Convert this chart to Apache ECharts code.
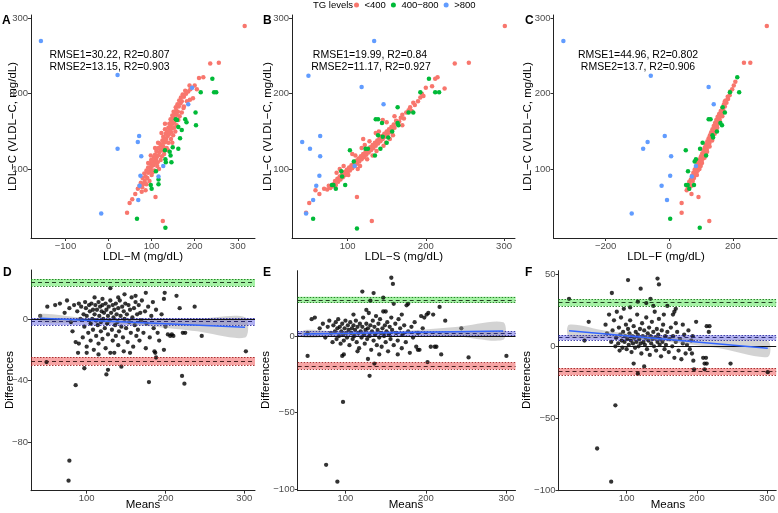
<!DOCTYPE html>
<html><head><meta charset="utf-8">
<script src="https://cdn.jsdelivr.net/npm/echarts@6/dist/echarts.min.js"></script>
<style>html,body{margin:0;padding:0;background:#fff}#c{width:778px;height:513px}</style>
</head><body><div id="c"></div>
<script>
// ---------------- DATA ----------------
const groupNames = ['<400', '400\u2212800', '>800'];
// Panel A : LDL-M vs LDL-C
const A_red = [[72,78],[78,76],[75,82],[80,80],[84,84],[79,88],[86,90],[90,88],[83,94],[92,95],[88,98],[95,97],[98,100],[92,102],[100,104],[97,107],[104,105],[102,110],[107,108],[99,112],[110,112],[105,115],[112,116],[108,119],[115,118],[118,122],[111,124],[120,126],[116,128],[124,125],[122,131],[127,130],[119,134],[128,135],[125,138],[132,136],[130,141],[134,140],[127,143],[137,144],[133,147],[140,146],[136,150],[142,151],[131,153],[145,149],[139,155],[144,157],[147,154],[141,160],[149,160],[146,163],[152,162],[144,166],[150,168],[155,167],[148,171],[153,173],[158,172],[151,176],[157,178],[161,176],[156,182],[163,183],[160,186],[167,187],[164,191],[170,190],[168,195],[175,196],[172,199],[180,200],[178,204],[185,203],[190,206],[188,211],[200,211],[205,206],[210,221],[220,222],[236,240],[256,241],[316,290],[62,67],[55,60],[49,55],[43,42],[109,63],[126,31],[189,192],[196,194],[100,92],[106,98],[113,104],[121,112],[114,109],[129,120],[124,117],[135,128],[129,126],[139,135],[145,140],[150,145],[155,150],[158,158],[162,165],[170,175],[175,183],[182,190],[95,84],[88,80],[103,96],[117,100],[138,125],[148,135],[152,155],[165,170],[174,181],[86,72],[77,70],[68,74],[92,108],[98,118],[108,128],[115,135],[123,148],[131,160]];
const A_green = [[66,34],[132,22],[241,220],[214,202],[245,202],[250,202],[202,175],[203,158],[159,165],[181,162],[162,156],[166,141],[162,127],[131,125],[144,118],[146,109],[133,109],[132,113],[110,97],[116,86],[98,79],[100,74],[116,80],[142,123],[149,129],[170,152],[178,166],[156,166]];
const A_blue = [[-157,270],[21,225],[21,127],[71,144],[68,136],[76,117],[74,91],[-17,41],[69,59],[72,78],[194,208],[185,186],[127,104],[116,90]];
// Panel B : LDL-S vs LDL-C
const B_red = [[70,74],[74,73],[78,75],[76,78],[80,77],[82,80],[85,79],[84,84],[88,83],[87,87],[91,86],[90,90],[94,89],[93,93],[97,92],[96,96],[100,95],[99,99],[103,98],[102,102],[106,101],[105,105],[109,104],[108,108],[112,107],[111,111],[115,110],[114,114],[118,113],[117,117],[121,116],[120,120],[124,119],[123,123],[127,122],[126,126],[130,125],[129,129],[133,128],[132,132],[136,131],[135,135],[139,134],[138,138],[142,137],[141,141],[145,140],[144,144],[148,143],[147,147],[151,146],[150,150],[154,149],[153,153],[157,152],[156,156],[160,155],[159,159],[163,160],[162,164],[166,163],[168,168],[172,167],[170,172],[175,175],[178,178],[182,177],[180,182],[186,185],[184,188],[190,190],[193,195],[197,197],[195,200],[200,208],[208,210],[212,220],[215,222],[224,207],[237,240],[255,241],[301,290],[131,31],[112,63],[51,55],[47,42],[64,67],[59,72],[86,95],[95,104],[110,118],[118,128],[128,137],[140,150],[150,162],[160,170],[101,92],[113,100],[125,113],[137,124],[149,135],[158,145],[170,158],[120,140],[145,165],[106,120],[90,100],[116,104],[132,118],[146,131],[154,140],[122,132],[136,148]];
const B_green = [[112,21],[56,34],[204,220],[193,202],[212,202],[217,202],[164,182],[178,175],[184,175],[136,166],[139,166],[144,161],[164,161],[165,158],[139,145],[145,143],[152,142],[142,127],[123,127],[126,127],[135,118],[103,125],[108,110],[97,79],[80,79],[82,79],[85,74],[93,90],[92,97],[157,150],[150,135]];
const B_blue = [[134,270],[50,224],[118,209],[146,186],[42,136],[52,127],[65,144],[65,117],[64,91],[60,78],[56,59],[47,41],[109,104]];
// Panel C : LDL-F vs LDL-C
const C_red = [[55,72],[62,74],[58,77],[66,79],[70,78],[63,83],[74,84],[68,86],[78,88],[72,91],[82,92],[76,95],[86,96],[80,99],[90,98],[84,102],[94,103],[88,106],[98,107],[92,110],[102,111],[96,113],[106,114],[100,117],[110,118],[104,121],[114,122],[108,125],[118,126],[112,129],[122,130],[116,133],[126,134],[120,137],[130,138],[124,141],[134,142],[128,145],[138,146],[132,149],[142,150],[136,153],[146,154],[140,157],[150,158],[144,161],[154,162],[148,165],[158,166],[152,169],[162,170],[157,173],[166,174],[162,177],[170,178],[167,181],[175,183],[172,186],[180,188],[178,191],[185,193],[184,196],[190,198],[192,203],[198,206],[203,211],[208,216],[235,241],[255,241],[307,290],[39,55],[39,42],[92,63],[126,31],[70,67],[95,100],[103,108],[111,115],[119,123],[127,130],[135,138],[143,147],[151,155],[159,163],[167,170],[87,92],[99,104],[115,126],[131,142],[147,160],[163,176],[175,190],[105,118],[123,135],[139,152],[155,170]];
const C_green = [[3,34],[96,22],[214,222],[220,202],[191,202],[175,175],[168,182],[124,166],[130,166],[136,145],[138,142],[161,161],[166,158],[52,125],[97,127],[116,118],[80,110],[84,113],[59,97],[53,79],[58,79],[78,79],[63,74],[150,150],[105,135]];
const C_blue = [[-333,270],[-58,224],[-14,144],[-68,136],[-82,127],[6,117],[3,91],[-24,78],[-7,59],[-118,41],[124,209],[140,186],[71,90],[84,104]];

// Bland-Altman panels: [mean, difference]
const D_pts = [[60,9],[66,10],[72,4],[75,12],[78,7],[80,-2],[82,-8],[84,9],[86,-15],[88,5],[90,10],[90,-16],[92,0],[93,8],[95,-12],[96,3],[97,-5],[98,11],[99,7],[100,-18],[100,2],[102,-9],[103,9],[104,5],[105,-3],[105,-14],[106,10],[107,0],[108,6],[108,-7],[109,-20],[110,3],[111,9],[112,-11],[112,-1],[113,6],[114,-4],[115,11],[115,-16],[116,2],[117,8],[118,-8],[118,-2],[119,5],[120,9],[120,-13],[121,0],[122,4],[123,-6],[124,10],[124,-19],[125,6],[126,-3],[127,2],[127,-10],[128,8],[129,-1],[130,12],[130,-22],[131,4],[132,-7],[133,9],[133,-14],[134,1],[135,6],[136,-4],[137,10],[137,-11],[138,3],[139,-2],[140,7],[140,-17],[141,-8],[142,12],[143,2],[144,-5],[145,8],[146,-12],[147,5],[147,-21],[148,0],[149,10],[150,-6],[151,3],[152,-15],[153,9],[154,-2],[155,6],[156,-9],[157,14],[158,1],[159,-18],[160,7],[161,-4],[162,11],[163,-11],[164,3],[165,-7],[166,9],[167,-14],[168,4],[169,-1],[170,12],[172,-9],[174,5],[175,-19],[176,-3],[178,8],[180,-12],[182,2],[184,11],[185,-6],[187,-22],[188,6],[190,-9],[192,-14],[195,3],[198,13],[200,-5],[203,-10],[206,-11],[208,-10],[210,-11],[214,15],[218,7],[222,-9],[225,-9],[237,8],[246,-11],[302,-21],[49,-28],[41,2],[50,8],[77,-105],[78,-92],[86,-43],[97,-32],[125,-36],[127,-33],[144,-31],[179,-41],[221,-37],[224,-42],[188,-25],[198,-20],[186,-21],[130,20],[148,16],[162,15],[175,17],[199,17],[110,14],[120,13],[140,14],[100,-22],[89,-22],[115,-23],[135,-22],[155,-22]];
const E_pts = [[58,11],[62,12],[68,5],[72,8],[75,-1],[78,6],[80,10],[82,2],[84,-4],[85,7],[87,3],[88,9],[89,-2],[90,5],[91,11],[92,0],[93,6],[94,-5],[95,3],[96,8],[97,1],[98,-3],[99,5],[100,10],[101,2],[102,-1],[103,7],[104,4],[105,-6],[106,9],[107,2],[108,5],[109,-2],[110,7],[111,0],[112,4],[113,10],[114,-4],[115,6],[116,2],[117,-8],[118,8],[119,3],[120,-1],[121,6],[122,12],[123,1],[124,-5],[125,4],[126,8],[127,-2],[128,5],[129,15],[130,0],[131,7],[132,-9],[133,3],[134,10],[135,-3],[136,6],[137,1],[138,13],[139,-6],[140,4],[141,8],[142,-1],[143,11],[144,2],[145,-7],[146,5],[147,16],[148,0],[149,7],[150,-4],[151,3],[152,9],[153,-10],[154,1],[155,6],[156,-2],[157,12],[158,4],[160,-6],[162,8],[163,2],[165,-3],[166,11],[168,5],[170,-8],[171,1],[173,7],[175,-4],[176,20],[178,3],[180,-11],[182,6],[184,-1],[186,9],[188,-7],[190,2],[192,-9],[194,13],[196,5],[198,12],[201,14],[203,15],[209,14],[206,-7],[211,-7],[213,-7],[219,-12],[202,-17],[217,19],[224,10],[244,5],[253,-14],[300,-13],[53,-13],[53,2],[90,-95],[76,-84],[97,-43],[98,-12],[96,-13],[121,29],[135,28],[131,23],[147,25],[157,38],[159,34],[160,21],[178,21],[126,17],[130,-26],[136,-18],[128,-15],[190,-9],[115,-10],[142,-12],[165,-12],[150,16],[110,14],[170,14]];
const F_pts = [[46,17],[40,4],[18,33],[70,15],[72,9],[75,22],[78,3],[80,11],[82,18],[84,0],[85,6],[86,24],[88,2],[89,13],[90,-3],[91,8],[92,20],[93,4],[94,-1],[95,10],[96,26],[97,3],[98,7],[99,15],[100,-2],[101,5],[102,12],[103,1],[104,9],[105,18],[106,4],[107,-4],[108,7],[109,2],[110,14],[111,6],[112,-1],[113,10],[114,3],[115,22],[116,8],[117,0],[118,5],[119,12],[120,2],[121,-5],[122,16],[123,7],[124,3],[125,11],[126,1],[127,6],[128,20],[129,-2],[130,9],[131,4],[132,13],[133,-6],[134,7],[135,2],[136,17],[137,5],[138,10],[139,0],[140,24],[141,6],[142,-3],[143,12],[144,3],[145,8],[146,19],[147,1],[148,5],[149,-7],[150,11],[151,3],[152,15],[153,22],[154,-2],[155,7],[156,1],[158,10],[160,-4],[161,5],[163,13],[165,0],[166,7],[168,-8],[170,3],[172,10],[174,-3],[176,5],[178,-9],[180,2],[182,8],[184,-5],[186,1],[188,11],[190,-2],[192,4],[194,7],[195,-10],[193,-5],[196,-16],[199,17],[209,-8],[211,-16],[211,-12],[213,-8],[214,-12],[214,14],[217,10],[218,14],[248,-12],[301,-18],[78,-94],[58,-71],[84,-41],[79,37],[102,46],[120,40],[144,47],[146,43],[134,33],[116,31],[110,-12],[116,-19],[125,-14],[170,26],[168,24],[166,22],[170,16],[158,28],[138,28],[105,27],[128,30],[180,15]];

// Limits of agreement: [lowerCI, centre, upperCI]
const D_upper = [21.4, 23.8, 26.0], D_mean = [-3.9, -1.75, 0.45], D_lower = [-29.9, -27.3, -24.9];
const E_upper = [21.7, 23.5, 25.6], E_mean = [0.2, 1.6, 3.0], E_lower = [-21.5, -19.4, -17.2];
const F_upper = [28.0, 30.3, 32.6], F_mean = [4.4, 6.2, 7.6], F_lower = [-19.9, -17.6, -15.3];

// Regression trend (x, fit) and its confidence band (x, low, high)
const D_fit = [[41, 0.5], [301, -5.4]];
const D_ci = [[41,-2.0,3.2],[90,-2.1,0.9],[135,-2.7,-0.5],[180,-4.7,-0.6],[240,-8.0,0.0],[301,-12.0,1.2]];
const E_fit = [[48, 1.3], [296, 3.3]];
const E_ci = [[48,-1.0,3.8],[90,0.4,2.9],[135,1.1,2.9],[180,1.2,3.6],[240,-0.3,6.0],[296,-2.5,9.0]];
const F_fit = [[18, 10.8], [301, -1.4]];
const F_ci = [[18,6.6,15.0],[70,6.3,10.8],[125,4.7,7.7],[170,2.5,6.0],[230,-1.2,4.5],[301,-7.4,3.8]];

// Tick labels
const ticksAx = [-100, 0, 100, 200, 300], ticksBx = [100, 200, 300], ticksCx = [-200, 0, 200];
const ticksTopY = [100, 200, 300];
const ticksDEFx = [100, 200, 300];
const ticksDy = [-80, -40, 0], ticksEy = [-100, -50, 0], ticksFy = [-100, -50, 0, 50];

const annotA = ['RMSE1=30.22, R2=0.807', 'RMSE2=13.15, R2=0.903'];
const annotB = ['RMSE1=19.99, R2=0.84', 'RMSE2=11.17, R2=0.927'];
const annotC = ['RMSE1=44.96, R2=0.802', 'RMSE2=13.7, R2=0.906'];

// ---------------- CHART ----------------
const FONT = '"Liberation Sans", Arial, Helvetica, sans-serif';
const COLORS = ['#F8766D', '#00BA38', '#619CFF'];
const fmt = v => (v < 0 ? '\u2212' + Math.abs(v) : String(v));

const grids = [
  {left: 31, top: 15, width: 224, height: 223},
  {left: 292, top: 15, width: 223, height: 223},
  {left: 553.5, top: 15, width: 223.5, height: 223},
  {left: 31, top: 270, width: 224, height: 220.7},
  {left: 297.7, top: 270.7, width: 217.8, height: 220},
  {left: 558.5, top: 270.7, width: 218.5, height: 220}
];
const xr = [[-180, 340], [29, 314], [-364, 339], [29.3, 313.6], [40.7, 311.3], [3, 313]];
const yr = [[8.5, 304.5], [8.5, 304.5], [8.5, 304.5], [-111.5, 31.8], [-100.9, 42.6], [-100.3, 52.5]];
const xt = [ticksAx, ticksBx, ticksCx, ticksDEFx, ticksDEFx, ticksDEFx];
const yt = [ticksTopY, ticksTopY, ticksTopY, ticksDy, ticksEy, ticksFy];

function axis(i, range, ticks) {
  return {
    type: 'value', gridIndex: i, min: range[0], max: range[1],
    splitLine: {show: false},
    axisLine: {show: true, onZero: false, lineStyle: {color: '#222', width: 1}},
    axisTick: {show: true, length: 3, customValues: ticks, lineStyle: {color: '#333', width: 1}},
    axisLabel: {customValues: ticks, formatter: fmt, color: '#4D4D4D', fontSize: 9.5, fontFamily: FONT, margin: 3}
  };
}

const series = [];
const topSets = [[A_red, A_green, A_blue], [B_red, B_green, B_blue], [C_red, C_green, C_blue]];
topSets.forEach((sets, i) => {
  sets.forEach((d, g) => {
    series.push({
      type: 'scatter', name: groupNames[g], xAxisIndex: i, yAxisIndex: i, data: d,
      symbolSize: 4.5, itemStyle: {color: COLORS[g], opacity: 1}, silent: true
    });
  });
});

const baSets = [
  {pts: D_pts, up: D_upper, mn: D_mean, lo: D_lower, fit: D_fit, ci: D_ci},
  {pts: E_pts, up: E_upper, mn: E_mean, lo: E_lower, fit: E_fit, ci: E_ci},
  {pts: F_pts, up: F_upper, mn: F_mean, lo: F_lower, fit: F_fit, ci: F_ci}
];
baSets.forEach((s, k) => {
  const i = k + 3;
  series.push({type: 'scatter', xAxisIndex: i, yAxisIndex: i, data: s.pts, symbolSize: 4.3,
    itemStyle: {color: '#000'}, silent: true, z: 2});
  series.push({
    type: 'custom', xAxisIndex: i, yAxisIndex: i, data: [0], z: 3, silent: true,
    renderItem: (params, api) => {
      const upper = s.ci.map(p => api.coord([p[0], p[2]]));
      const lower = s.ci.slice().reverse().map(p => api.coord([p[0], p[1]]));
      return {type: 'polygon', shape: {points: upper.concat(lower), smooth: 0.3},
        style: {fill: 'rgba(150,150,150,0.42)', stroke: null}};
    }
  });
  const band = (b, fill) => [{yAxis: b[0], itemStyle: {color: fill}}, {yAxis: b[2]}];
  const edge = (v, c) => ({yAxis: v, lineStyle: {type: [1.5, 1.5], color: c, width: 0.9}});
  const mid = (v, c) => ({yAxis: v, lineStyle: {type: [4, 3], color: c, width: 1}});
  series.push({
    type: 'line', xAxisIndex: i, yAxisIndex: i, data: [], z: 4, silent: true,
    markArea: {silent: true, data: [
      band(s.up, 'rgba(40,225,40,0.42)'),
      band(s.mn, 'rgba(70,70,225,0.42)'),
      band(s.lo, 'rgba(235,40,40,0.42)')
    ]},
    markLine: {silent: true, symbol: 'none', label: {show: false}, animation: false, data: [
      {yAxis: 0, lineStyle: {type: 'solid', color: '#111', width: 1}},
      edge(s.up[0], '#1a7a1a'), edge(s.up[2], '#1a7a1a'), mid(s.up[1], '#1f3f1f'),
      edge(s.mn[0], '#3030a0'), edge(s.mn[2], '#3030a0'), mid(s.mn[1], '#2a2a70'),
      edge(s.lo[0], '#a02020'), edge(s.lo[2], '#a02020'), mid(s.lo[1], '#4a1f1f')
    ]}
  });
  series.push({type: 'line', xAxisIndex: i, yAxisIndex: i, data: s.fit, showSymbol: false,
    lineStyle: {color: '#3366FF', width: 1.6}, z: 5, silent: true});
});

const T = (text, x, y, opts = {}) => ({
  type: 'text', x, y, rotation: opts.rot || 0, silent: true,
  style: {text, fill: opts.fill || '#000', fontSize: opts.size || 11.5, fontFamily: FONT,
    fontWeight: opts.bold ? 'bold' : 'normal', align: opts.align || 'center', verticalAlign: 'middle'}
});
const R = Math.PI / 2;
const graphics = [
  T('TG levels', 313, 5, {align: 'left', size: 9.5}),
  T('A', 2, 20.5, {align: 'left', bold: true, size: 12}),
  T('B', 263, 20.5, {align: 'left', bold: true, size: 12}),
  T('C', 525, 20.5, {align: 'left', bold: true, size: 12}),
  T('D', 3, 273, {align: 'left', bold: true, size: 12}),
  T('E', 263, 273, {align: 'left', bold: true, size: 12}),
  T('F', 525, 273, {align: 'left', bold: true, size: 12}),
  T('LDL\u2212C (VLDL\u2212C, mg/dL)', 13, 126.5, {rot: R}),
  T('LDL\u2212C (VLDL\u2212C, mg/dL)', 268, 126.5, {rot: R}),
  T('LDL\u2212C (VLDL\u2212C, mg/dL)', 528, 126.5, {rot: R}),
  T('LDL\u2212M (mg/dL)', 143, 257),
  T('LDL\u2212S (mg/dL)', 404, 257),
  T('LDL\u2212F (mg/dL)', 666, 257),
  T('Differences', 10, 380, {rot: R}),
  T('Differences', 266, 380, {rot: R}),
  T('Differences', 527, 380, {rot: R}),
  T('Means', 143, 505),
  T('Means', 406, 505),
  T('Means', 668, 505),
  T(annotA[0], 109.5, 55, {size: 10.5}), T(annotA[1], 109.5, 67, {size: 10.5}),
  T(annotB[0], 370, 55, {size: 10.5}), T(annotB[1], 371, 67, {size: 10.5}),
  T(annotC[0], 638, 55, {size: 10.5}), T(annotC[1], 638, 67, {size: 10.5})
];

const chart = echarts.init(document.getElementById('c'), null, {renderer: 'canvas'});
chart.setOption({
  animation: false,
  backgroundColor: '#fff',
  textStyle: {fontFamily: FONT},
  legend: {
    data: groupNames, left: 354, top: 0, padding: 0, itemGap: 5, itemWidth: 8, itemHeight: 5,
    icon: 'circle', selectedMode: false,
    textStyle: {fontSize: 9.5, color: '#000', fontFamily: FONT, padding: [0, 0, 0, -1]}
  },
  grid: grids,
  xAxis: grids.map((g, i) => axis(i, xr[i], xt[i])),
  yAxis: grids.map((g, i) => axis(i, yr[i], yt[i])),
  series: series,
  graphic: graphics
});
</script></body></html>
